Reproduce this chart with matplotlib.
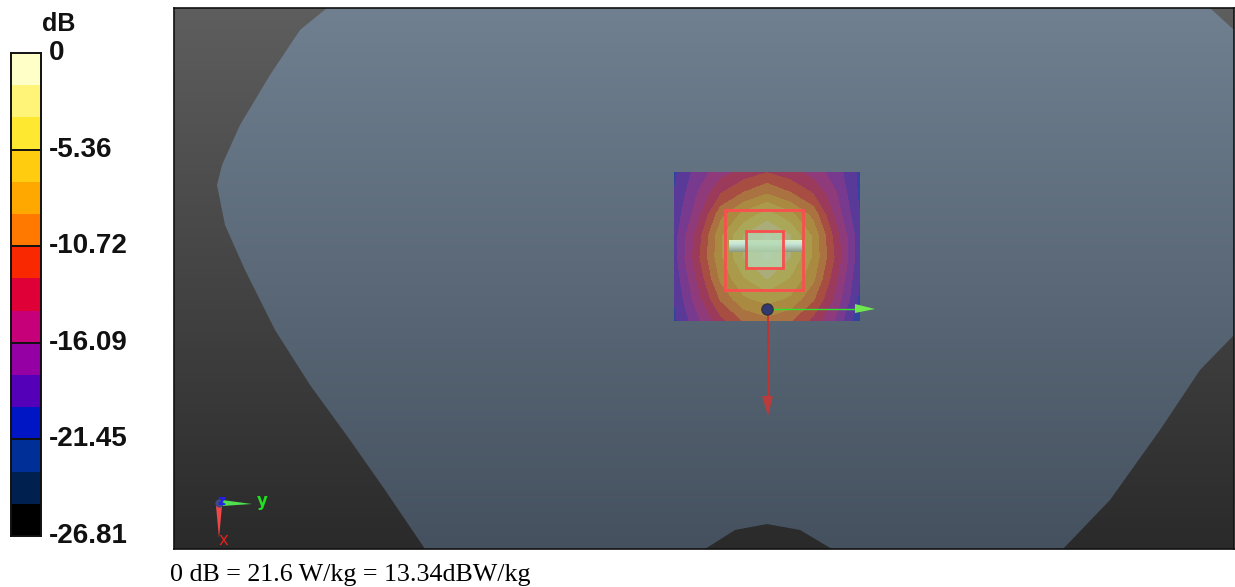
import numpy as np
import matplotlib
matplotlib.use('Agg')
import matplotlib.pyplot as plt
from matplotlib.colors import ListedColormap, BoundaryNorm, LinearSegmentedColormap, to_rgb
from matplotlib.patches import Polygon, Rectangle
from matplotlib.transforms import ScaledTranslation

W, H = 1235, 587

# colour scale
db_ticks = [0, -5.36, -10.72, -16.09, -21.45, -26.81]
db_labels = ['0', '-5.36', '-10.72', '-16.09', '-21.45', '-26.81']
band_colors = ['#000000', '#00204f', '#002f98', '#0016c4', '#5400b8', '#9400a4',
               '#c60078', '#e00038', '#fa2800', '#ff7800', '#ffa800', '#ffcc10',
               '#ffe930', '#fff478', '#ffffc8']

# phantom outline, in picture pixels
phantom_x = [327, 300, 270, 240, 222, 217, 225, 245, 275, 310, 350, 385, 425,
             705, 735, 767, 800, 832, 1063, 1110, 1160, 1200, 1234, 1234, 1210]
phantom_y = [8, 30, 75, 125, 165, 185, 225, 270, 330, 385, 440, 490, 549,
             549, 530, 524, 530, 549, 549, 500, 430, 370, 335, 30, 8]

# measured field, dB
scan_x = [675, 698, 721, 744, 767, 790, 813, 836, 859]
scan_y = [173, 194, 215, 236, 257, 278, 299, 320]
scan_db = [
    [-20, -17, -15, -13.5, -12.5, -13.5, -15, -17, -20],
    [-19.5, -16, -12.5, -10.5, -9, -10.5, -12.5, -16, -20],
    [-19, -15, -9.5, -6.5, -4.5, -6.5, -9.5, -15, -19.5],
    [-18.5, -13.5, -7.5, -3.5, -1.5, -3.5, -7.5, -13.5, -19],
    [-18.5, -13, -7.5, -3.5, -1.5, -3.5, -7.5, -13, -19],
    [-19, -14, -8.5, -5.5, -3.5, -5.5, -8.5, -14, -19.5],
    [-19.5, -15, -10.5, -7.5, -6.5, -7.5, -10.5, -15, -20],
    [-20, -16.5, -13, -10.5, -9.5, -10.5, -13, -16.5, -21],
]

edges = np.linspace(-26.81, 0, len(band_colors) + 1)
cmap = ListedColormap(band_colors)
norm = BoundaryNorm(edges, cmap.N)

# scan is semi transparent over the phantom, mix first so no seams show
mix = 0.47
under = np.array(to_rgb('#5f6d7b'))
scan_colors = [mix * np.array(to_rgb(c)) + (1 - mix) * under for c in band_colors]
scan_cmap = ListedColormap(scan_colors)

fig = plt.figure(figsize=(W / 100, H / 100), dpi=100)

# main view, limits are picture pixels
ax = fig.add_axes([174 / W, 1 - 549 / H, 1060 / W, 541 / H])
ax.set_xticks([])
ax.set_yticks([])
for s in ax.spines.values():
    s.set_linewidth(1.2)
    s.set_color('#111111')

grad = np.linspace(0, 1, 256).reshape(-1, 1)
extent = [174, 1234, 549, 8]
bg_cmap = LinearSegmentedColormap.from_list('bg', ['#5e5e5e', '#2a2a2a'])
ax.imshow(grad, cmap=bg_cmap, extent=extent, aspect='auto', zorder=0)
body_cmap = LinearSegmentedColormap.from_list('body', ['#708090', '#45515f'])
im = ax.imshow(grad, cmap=body_cmap, extent=extent, aspect='auto', zorder=1)
outline = Polygon(np.column_stack([phantom_x, phantom_y]), closed=True,
                  transform=ax.transData, fc='none', ec='none')
ax.add_patch(outline)
im.set_clip_path(outline)

# scan area
cs = ax.contourf(scan_x, scan_y, scan_db, levels=edges, cmap=scan_cmap, norm=norm, zorder=2)
cs.set_edgecolor('face')
cs.set_linewidth(0.15)

# probe
rod = LinearSegmentedColormap.from_list('rod', ['#dcefc8', '#c4e6d8', '#a8c0b0', '#8a9a80'])
ax.imshow(np.linspace(0, 1, 32).reshape(-1, 1), cmap=rod, extent=[729, 805, 252, 240],
          aspect='auto', zorder=3)
ax.add_patch(Rectangle((748, 233), 34, 34, fc='#b4d8b0', ec='none', alpha=0.75, zorder=3))

# zoom scan boxes
ax.add_patch(Rectangle((725, 210), 78, 80, fc='none', ec='#fa4f4f', lw=2, zorder=4))
ax.add_patch(Rectangle((746, 231), 37, 37, fc='none', ec='#fa4f4f', lw=2, zorder=4))

# device axes
ax.plot([767, 855], [309, 309], color='#30e030', lw=1, zorder=5)
ax.add_patch(Polygon([[855, 304], [875, 309], [855, 313]], fc='#70e850', ec='none', zorder=5))
ax.plot([768, 768], [309, 397], color='#c83030', lw=1.3, zorder=5)
ax.add_patch(Polygon([[762, 396], [773, 396], [768, 416]], fc='#b83c3c', ec='none', zorder=5))
ax.plot([767], [309], 'o', ms=8, mfc='#303a70', mec='#303040', zorder=6)

# corner triad
ax.add_patch(Polygon([[222, 500], [222, 506], [252, 504]], fc='#50e050', ec='none', zorder=5))
ax.add_patch(Polygon([[216, 506], [222, 506], [219, 538]], fc='#f04848', ec='none', zorder=5))
ax.plot([219], [503], 'o', ms=6, mfc='#404a80', mec='none', zorder=6)
ax.text(262, 501, 'y', color='#20e020', fontsize=12, fontweight='bold', ha='center', va='center', zorder=7)
ax.text(223, 540, 'x', color='#e02020', fontsize=12, ha='center', va='center', zorder=7)
ax.text(221, 501, 'z', color='#2020f0', fontsize=10, fontweight='bold', ha='center', va='center', zorder=7)
ax.set_xlim(174, 1234)
ax.set_ylim(549, 8)

# colour bar
cax = fig.add_axes([11 / W, 1 - 536 / H, 30 / W, 483 / H])
cax.pcolormesh([0, 1], edges, np.arange(len(band_colors)).reshape(-1, 1),
               cmap=cmap, shading='flat')
cax.set_ylim(-26.81, 0)
cax.set_xticks([])
cax.yaxis.tick_right()
cax.set_yticks(db_ticks)
cax.set_yticklabels(db_labels, family='Liberation Sans', fontweight='bold', fontsize=20,
                    color='#111111')
cax.tick_params(axis='y', length=0, pad=5.8)
up = ScaledTranslation(0, 3 / 100, fig.dpi_scale_trans)
for lab in cax.get_yticklabels():
    lab.set_transform(lab.get_transform() + up)
for v in db_ticks[1:-1]:
    cax.axhline(v, color='#111111', lw=1.4)
for s in cax.spines.values():
    s.set_linewidth(1.4)
    s.set_color('#111111')

fig.text(59 / W, 1 - 24 / H, 'dB', family='Liberation Sans', fontweight='bold', fontsize=18,
         ha='center', va='center', color='#111111')
fig.text(170 / W, 1 - 575 / H, '0 dB = 21.6 W/kg = 13.34dBW/kg', family='Liberation Serif',
         fontsize=18.7, ha='left', va='center', color='black')

fig.savefig('out.png', dpi=100)
